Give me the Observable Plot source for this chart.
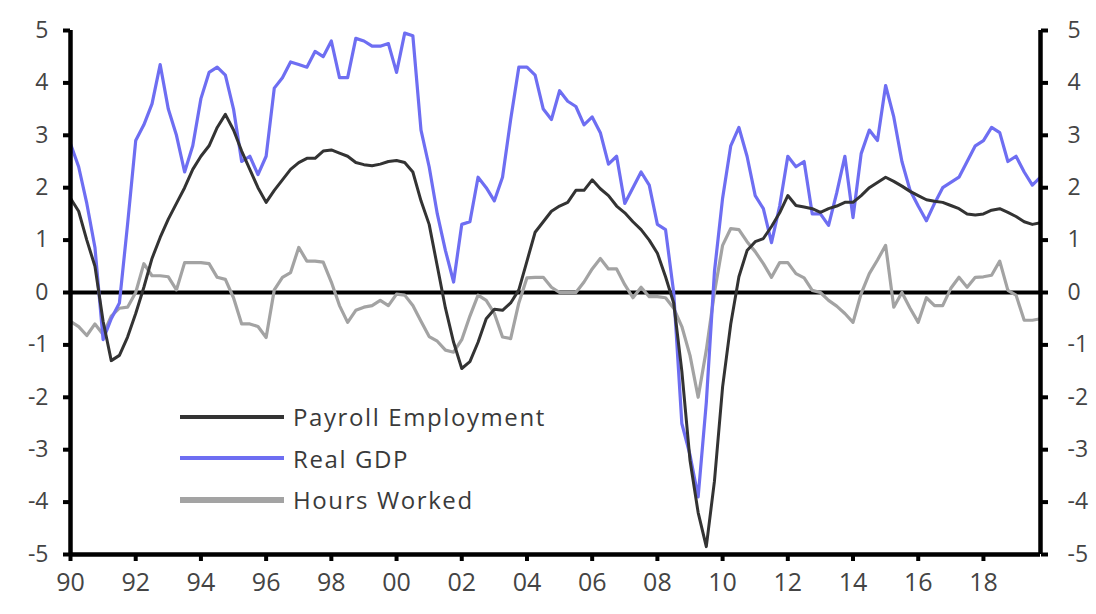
<!DOCTYPE html>
<html>
<head>
<meta charset="utf-8">
<script src="https://cdn.jsdelivr.net/npm/d3@7"></script>
<script src="https://cdn.jsdelivr.net/npm/@observablehq/plot@0.6"></script>
<style>
  html, body { margin: 0; padding: 0; background: #fff; }
  #wrap { position: relative; width: 1096px; height: 614px; font-family: "Open Sans", Lato, sans-serif; }
  #legend { position: absolute; left: 180px; top: 396px; }
  .item { display: flex; align-items: center; height: 41.5px; }
  .swatch { width: 104px; height: 4px; margin-right: 9px; }
  .label { font-size: 24px; color: #3a3a3a; letter-spacing: 1.6px; }
</style>
</head>
<body>
<div id="wrap"><div id="chart"></div><div id="legend"></div></div>
<script>
// Quarterly, 1990Q1 .. 2019Q4, % y/y
const startYear = 1990;
const xDomain = [1990, 2019.75];
const yDomain = [-5, 5];
const yTicks = [-5, -4, -3, -2, -1, 0, 1, 2, 3, 4, 5];
const xTicks = [1990, 1992, 1994, 1996, 1998, 2000, 2002, 2004, 2006, 2008, 2010, 2012, 2014, 2016, 2018];

const seriesNames = ["Payroll Employment", "Real GDP", "Hours Worked"];
const seriesColors = ["#333333", "#6e6ef2", "#a3a3a3"];

const payroll = [
  1.8, 1.55, 1.0, 0.5, -0.55, -1.3, -1.2, -0.85, -0.4, 0.1, 0.65, 1.05,
  1.4, 1.7, 2.0, 2.35, 2.6, 2.8, 3.15, 3.4, 3.1, 2.7, 2.35, 2.0,
  1.72, 1.95, 2.15, 2.35, 2.48, 2.56, 2.56, 2.7, 2.72, 2.66, 2.6, 2.48,
  2.44, 2.42, 2.45, 2.5, 2.52, 2.48, 2.3, 1.75, 1.3, 0.5, -0.3, -0.95,
  -1.45, -1.32, -0.95, -0.5, -0.32, -0.34, -0.2, 0.05, 0.6, 1.15, 1.35, 1.55,
  1.65, 1.72, 1.95, 1.95, 2.15, 1.98, 1.85, 1.65, 1.52, 1.35, 1.2, 1.0,
  0.75, 0.3, -0.2, -1.5, -3.2, -4.2, -4.85, -3.6, -1.8, -0.6, 0.3, 0.8,
  0.97, 1.03, 1.26, 1.52, 1.85, 1.66, 1.63, 1.6, 1.53, 1.6, 1.65, 1.72,
  1.72, 1.85, 2.0, 2.1, 2.2, 2.12, 2.03, 1.93, 1.85, 1.77, 1.74, 1.72,
  1.66, 1.6, 1.5, 1.48, 1.5, 1.57, 1.6, 1.53, 1.45, 1.35, 1.3, 1.33
];

const gdp = [
  2.84, 2.4, 1.7, 0.86, -0.9, -0.5, -0.2, 1.3, 2.9, 3.2, 3.6, 4.35,
  3.5, 3.0, 2.3, 2.8, 3.7, 4.2, 4.3, 4.15, 3.5, 2.5, 2.6, 2.25,
  2.6, 3.9, 4.1, 4.4, 4.35, 4.3, 4.6, 4.5, 4.8, 4.1, 4.1, 4.85,
  4.8, 4.7, 4.7, 4.75, 4.2, 4.95, 4.9, 3.1, 2.4, 1.5, 0.8, 0.2,
  1.3, 1.35, 2.2, 2.0, 1.75, 2.2, 3.3, 4.3, 4.3, 4.15, 3.5, 3.3,
  3.85, 3.65, 3.55, 3.2, 3.35, 3.05, 2.45, 2.6, 1.7, 2.0, 2.3, 2.05,
  1.3, 1.2, 0.0, -2.5, -3.1, -3.9, -2.1, 0.4, 1.8, 2.8, 3.15, 2.6,
  1.85, 1.6, 0.95, 1.65, 2.6, 2.4, 2.5, 1.5, 1.5, 1.28, 1.9, 2.6,
  1.43, 2.65, 3.1, 2.9, 3.95, 3.35, 2.5, 1.95, 1.65, 1.37, 1.7, 2.0,
  2.1, 2.2, 2.5, 2.8, 2.9, 3.15, 3.05, 2.5, 2.6, 2.3, 2.05, 2.2
];

const hours = [
  -0.55, -0.65, -0.82, -0.6, -0.8, -0.45, -0.3, -0.28, 0.0, 0.55, 0.32, 0.32,
  0.3, 0.05, 0.57, 0.57, 0.57, 0.55, 0.29, 0.25, -0.1, -0.6, -0.6, -0.65,
  -0.86, 0.05, 0.29, 0.38, 0.86, 0.6, 0.6, 0.58, 0.2, -0.25, -0.57, -0.34,
  -0.28, -0.25, -0.15, -0.25, -0.03, -0.05, -0.25, -0.55, -0.84, -0.93, -1.1, -1.14,
  -0.9, -0.45, -0.05, -0.15, -0.4, -0.85, -0.88, -0.2, 0.28, 0.29, 0.29, 0.1,
  0.0, 0.0, 0.0, 0.2, 0.45, 0.65, 0.45, 0.45, 0.15, -0.1, 0.1, -0.08,
  -0.08, -0.1, -0.3, -0.65, -1.2, -2.0, -1.1, 0.0, 0.9, 1.22, 1.2, 0.97,
  0.78, 0.55, 0.29, 0.57, 0.57, 0.36, 0.28, 0.04, 0.0, -0.15, -0.26, -0.4,
  -0.57, -0.02, 0.36, 0.62, 0.9, -0.28, 0.0, -0.3, -0.57, -0.1, -0.25, -0.25,
  0.08, 0.29, 0.1, 0.29, 0.3, 0.33, 0.6, 0.04, -0.05, -0.53, -0.53, -0.5
];

const toRows = (vals) => vals.map((v, i) => ({ t: startYear + i / 4, v }));
const rows = [toRows(payroll), toRows(gdp), toRows(hours)];

const fmtYear = d => String(d % 100).padStart(2, "0");
const fmtY = d => String(d).replace("−", "-");

const chart = Plot.plot({
  width: 1096,
  height: 614,
  marginLeft: 70,
  marginRight: 56,
  marginTop: 30,
  marginBottom: 60,
  style: { background: "#fff", color: "#444", fontFamily: "'Open Sans', Lato, sans-serif" },
  x: { type: "linear", domain: xDomain },
  y: { domain: yDomain },
  marks: [
    Plot.ruleY([0], { stroke: "#000", strokeWidth: 4 }),
    Plot.line(rows[2], { x: "t", y: "v", stroke: seriesColors[2], strokeWidth: 3.2 }),
    Plot.line(rows[1], { x: "t", y: "v", stroke: seriesColors[1], strokeWidth: 3.2 }),
    Plot.line(rows[0], { x: "t", y: "v", stroke: seriesColors[0], strokeWidth: 3 }),
    Plot.ruleX([xDomain[0]], { stroke: "#000", strokeWidth: 4.5 }),
    Plot.ruleX([xDomain[1]], { stroke: "#000", strokeWidth: 4.5 }),
    Plot.ruleY([yDomain[0]], { stroke: "#000", strokeWidth: 4.5 }),
    Plot.axisY({ anchor: "left", ticks: yTicks, tickSize: 7, tickPadding: 15, strokeWidth: 4, stroke: "#000", fontSize: 23, label: null, tickFormat: fmtY }),
    Plot.axisY({ anchor: "right", ticks: yTicks, tickSize: 7, tickPadding: 20, strokeWidth: 4, stroke: "#000", fontSize: 23, label: null, tickFormat: fmtY }),
    Plot.axisX({ anchor: "bottom", ticks: xTicks, tickSize: 7, tickPadding: 12, strokeWidth: 4, stroke: "#000", fontSize: 25, label: null, tickFormat: fmtYear })
  ]
});
document.getElementById("chart").appendChild(chart);

const legend = document.getElementById("legend");
seriesNames.forEach((name, i) => {
  const item = document.createElement("div");
  item.className = "item";
  const sw = document.createElement("div");
  sw.className = "swatch";
  sw.style.background = seriesColors[i];
  if (i === 2) sw.style.height = "6px";
  const lab = document.createElement("div");
  lab.className = "label";
  lab.textContent = name;
  item.appendChild(sw);
  item.appendChild(lab);
  legend.appendChild(item);
});
</script>
</body>
</html>
